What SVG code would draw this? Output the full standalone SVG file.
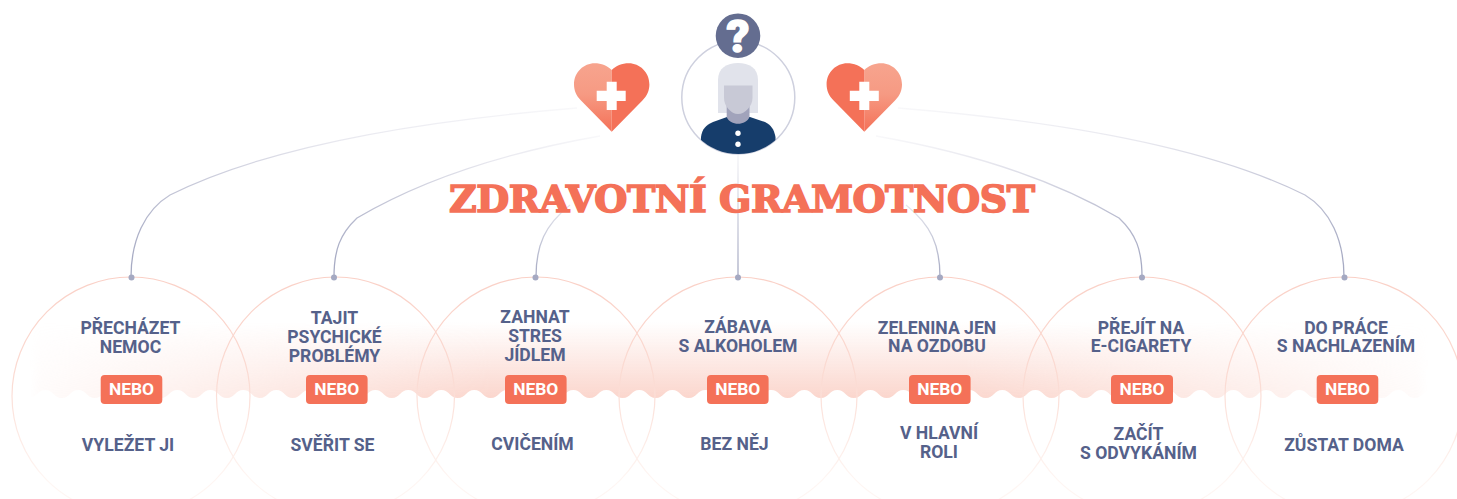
<svg xmlns="http://www.w3.org/2000/svg" width="1457" height="499" viewBox="0 0 1457 499">
<style>
.ring{fill:none;stroke:url(#ringG);stroke-width:1.2}
.lbl{font-family:Roboto,"Liberation Sans",sans-serif;font-weight:700;font-size:17.6px;fill:#55618a;text-anchor:middle}
.or{font-family:Roboto,"Liberation Sans",sans-serif;font-weight:700;font-size:17.4px;fill:#fff;text-anchor:middle}
.box{fill:#f47158}
.dot{fill:#a5a9c2}
.con{fill:none;stroke-width:1.3}
</style>
<defs>
<linearGradient id="ringG" x1="0" y1="0" x2="0" y2="1"><stop offset="0" stop-color="#fad0c6"/><stop offset=".45" stop-color="#fbdcd4"/><stop offset=".85" stop-color="#fef6f3"/></linearGradient>
<linearGradient id="waveG" gradientUnits="userSpaceOnUse" x1="0" y1="322" x2="0" y2="398"><stop offset="0" stop-color="#fbd6cd" stop-opacity="0"/><stop offset="1" stop-color="#fbd6cd"/></linearGradient>
<linearGradient id="fadeX" gradientUnits="userSpaceOnUse" x1="30" y1="0" x2="1428" y2="0"><stop offset="0" stop-color="#000"/><stop offset=".008" stop-color="#181818"/><stop offset=".33" stop-color="#fff"/><stop offset=".67" stop-color="#fff"/><stop offset=".992" stop-color="#181818"/><stop offset="1" stop-color="#000"/></linearGradient>
<mask id="waveM" maskUnits="userSpaceOnUse" x="0" y="300" width="1457" height="110"><rect x="0" y="300" width="1457" height="110" fill="url(#fadeX)"/></mask>
<linearGradient id="c1" gradientUnits="userSpaceOnUse" x1="131" y1="277" x2="577" y2="108"><stop offset="0" stop-color="#a5a9c2"/><stop offset=".15" stop-color="#c3c5d6"/><stop offset=".5" stop-color="#e8e8ef"/><stop offset="1" stop-color="#f8f8fa"/></linearGradient>
<linearGradient id="c2" gradientUnits="userSpaceOnUse" x1="334" y1="277" x2="600" y2="137"><stop offset="0" stop-color="#a5a9c2"/><stop offset=".25" stop-color="#c3c5d6"/><stop offset=".65" stop-color="#e8e8ef"/><stop offset="1" stop-color="#f8f8fa"/></linearGradient>
<linearGradient id="c3" gradientUnits="userSpaceOnUse" x1="0" y1="277" x2="0" y2="205"><stop offset="0" stop-color="#a5a9c2"/><stop offset="1" stop-color="#e6e7ee"/></linearGradient>
<linearGradient id="c4" gradientUnits="userSpaceOnUse" x1="0" y1="277" x2="0" y2="155"><stop offset="0" stop-color="#a5a9c2"/><stop offset="1" stop-color="#f4f4f7"/></linearGradient>
<linearGradient id="c6" gradientUnits="userSpaceOnUse" x1="1142" y1="277" x2="880" y2="137"><stop offset="0" stop-color="#a5a9c2"/><stop offset=".25" stop-color="#c3c5d6"/><stop offset=".65" stop-color="#e8e8ef"/><stop offset="1" stop-color="#f8f8fa"/></linearGradient>
<linearGradient id="c7" gradientUnits="userSpaceOnUse" x1="1344" y1="277" x2="898" y2="108"><stop offset="0" stop-color="#a5a9c2"/><stop offset=".15" stop-color="#c3c5d6"/><stop offset=".5" stop-color="#e8e8ef"/><stop offset="1" stop-color="#f8f8fa"/></linearGradient>
<linearGradient id="heartG" x1="0" y1="0" x2="0" y2="1"><stop offset="0" stop-color="#f7a48e"/><stop offset=".45" stop-color="#f69a83"/><stop offset="1" stop-color="#f47158"/></linearGradient>
<clipPath id="personClip"><circle cx="738.3" cy="97.5" r="56.5"/></clipPath>
</defs>

<path id="wave" mask="url(#waveM)" fill="url(#waveG)" d="M1464.3 390V320H12.3V390
c8.5 0 8.5 8 16.5 8s8.5-8 16.5-8s8.5 8 16.5 8s8.5-8 16.5-8s8.5 8 16.5 8s8.5-8 16.5-8s8.5 8 16.5 8s8.5-8 16.5-8
s8.5 8 16.5 8s8.5-8 16.5-8s8.5 8 16.5 8s8.5-8 16.5-8s8.5 8 16.5 8s8.5-8 16.5-8s8.5 8 16.5 8s8.5-8 16.5-8
s8.5 8 16.5 8s8.5-8 16.5-8s8.5 8 16.5 8s8.5-8 16.5-8s8.5 8 16.5 8s8.5-8 16.5-8s8.5 8 16.5 8s8.5-8 16.5-8
s8.5 8 16.5 8s8.5-8 16.5-8s8.5 8 16.5 8s8.5-8 16.5-8s8.5 8 16.5 8s8.5-8 16.5-8s8.5 8 16.5 8s8.5-8 16.5-8
s8.5 8 16.5 8s8.5-8 16.5-8s8.5 8 16.5 8s8.5-8 16.5-8s8.5 8 16.5 8s8.5-8 16.5-8s8.5 8 16.5 8s8.5-8 16.5-8
s8.5 8 16.5 8s8.5-8 16.5-8s8.5 8 16.5 8s8.5-8 16.5-8s8.5 8 16.5 8s8.5-8 16.5-8s8.5 8 16.5 8s8.5-8 16.5-8
s8.5 8 16.5 8s8.5-8 16.5-8s8.5 8 16.5 8s8.5-8 16.5-8s8.5 8 16.5 8s8.5-8 16.5-8s8.5 8 16.5 8s8.5-8 16.5-8
s8.5 8 16.5 8s8.5-8 16.5-8s8.5 8 16.5 8s8.5-8 16.5-8s8.5 8 16.5 8s8.5-8 16.5-8s8.5 8 16.5 8s8.5-8 16.5-8
s8.5 8 16.5 8s8.5-8 16.5-8s8.5 8 16.5 8s8.5-8 16.5-8s8.5 8 16.5 8s8.5-8 16.5-8s8.5 8 16.5 8s8.5-8 16.5-8
s8.5 8 16.5 8s8.5-8 16.5-8s8.5 8 16.5 8s8.5-8 16.5-8s8.5 8 16.5 8s8.5-8 16.5-8s8.5 8 16.5 8s8.5-8 16.5-8
s8.5 8 16.5 8s8.5-8 16.5-8s8.5 8 16.5 8s8.5-8 16.5-8s8.5 8 16.5 8s8.5-8 16.5-8s8.5 8 16.5 8s8.5-8 16.5-8Z"/>

<g id="connectors">
<path class="con" stroke="url(#c1)" d="M131 277C131 240 145 210 170 195C270 145 430 120 577 108"/>
<path class="con" stroke="url(#c2)" d="M334 277C334 250 340 234 357 218C430 175 520 150 600 136"/>
<path class="con" stroke="url(#c3)" d="M536 277C536 245 545 225 570 205"/>
<path class="con" stroke="url(#c4)" d="M738 277V155"/>
<path class="con" stroke="url(#c3)" d="M940 277C940 245 931 225 906 205"/>
<path class="con" stroke="url(#c6)" d="M1142 277C1142 250 1136 234 1119 218C1046 175 956 150 876 136"/>
<path class="con" stroke="url(#c7)" d="M1344 277C1344 240 1330 210 1305 195C1205 145 1045 120 898 108"/>
</g>

<g id="person">
<circle cx="738.300" cy="97.500" r="56.500" fill="#fff" stroke="#ced0de" stroke-width="1.500"/>
<path d="M718 113V80C718 68 727 63 738 63C749 63 758 68 758 80V113Z" fill="#e1e3eb"/>
<g clip-path="url(#personClip)"><path d="M701 160V137C702 129 706 125 713 122L727 117H750L765 122C771 125 774 129 775.500 137V160Z" fill="#163d6b"/></g>
<path d="M726.700 105V117C730 126 746 126 749.500 117V105Z" fill="#a1a3bb"/>
<path d="M724 85.500H752.500V98C752.500 106 745 114 738 114C731 114 724 106 724 98Z" fill="#c8c9d6"/>
<circle cx="738" cy="133.300" r="2.700" fill="#fff"/><circle cx="738" cy="144.300" r="2.700" fill="#fff"/>
</g>
<g id="question">
<circle cx="738" cy="35.700" r="22.300" fill="#646d90"/>
<text x="738" y="52" text-anchor="middle" font-family="Roboto,'Liberation Sans',sans-serif" font-weight="900" font-size="45" fill="#fff" stroke="#fff" stroke-width="1.400">?</text>
</g>

<g id="heart-left">
<path d="M611.700 131.700L581 100.500C576 95.500 574 90 574 84.500C574 72 584 63.300 594.500 63.300C601.500 63.300 607.500 66 611.700 70Z" fill="url(#heartG)"/>
<path d="M611.700 131.700L642.400 100.500C647.400 95.500 649.400 90 649.400 84.500C649.400 72 639.400 63.300 628.900 63.300C621.900 63.300 615.900 66 611.700 70Z" fill="#f47158"/>
<path d="M606.700 81.700H616.700V90.700H625.700V101H616.700V110H606.700V101H596.700V90.700H606.700Z" fill="#fff"/>
</g>
<g id="heart-right">
<path d="M864.300 131.700L895 100.500C900 95.500 902 90 902 84.500C902 72 892 63.300 881.500 63.300C874.500 63.300 868.500 66 864.300 70Z" fill="url(#heartG)"/>
<path d="M864.300 131.700L833.600 100.500C828.600 95.500 826.600 90 826.600 84.500C826.600 72 836.600 63.300 847.100 63.300C854.100 63.300 860.100 66 864.300 70Z" fill="#f47158"/>
<path d="M859.300 81.700H869.300V90.700H878.800V101H869.300V110H859.300V101H849.800V90.700H859.300Z" fill="#fff"/>
</g>

<text id="title" x="449" y="212" font-family="'DejaVu Serif',serif" font-weight="700" font-size="38" letter-spacing="-.5" fill="#f47158" stroke="#f47158" stroke-width="1.600">ZDRAVOTNÍ GRAMOTNOST</text>

<g id="node-1"><circle class="ring" cx="131" cy="396" r="119"/><circle class="dot" cx="131.500" cy="277.500" r="3"/>
<text class="lbl"><tspan x="130.500" y="334">PŘECHÁZET</tspan><tspan x="130.500" y="353">NEMOC</tspan></text>
<rect class="box" x="100.700" y="375" width="61.600" height="29" rx="4"/><text class="or" x="131.500" y="395">NEBO</text>
<text class="lbl" x="128" y="451">VYLEŽET JI</text></g>

<g id="node-2"><circle class="ring" cx="335.500" cy="396" r="119"/><circle class="dot" cx="334" cy="277.500" r="3"/>
<text class="lbl"><tspan x="334.500" y="324">TAJIT</tspan><tspan x="334.500" y="343">PSYCHICKÉ</tspan><tspan x="334.500" y="362">PROBLÉMY</tspan></text>
<rect class="box" x="306" y="375" width="61.600" height="29" rx="4"/><text class="or" x="336.800" y="395">NEBO</text>
<text class="lbl" x="332.500" y="451">SVĚŘIT SE</text></g>

<g id="node-3"><circle class="ring" cx="536" cy="396" r="119"/><circle class="dot" cx="535.500" cy="277.500" r="3"/>
<text class="lbl"><tspan x="535" y="323">ZAHNAT</tspan><tspan x="535" y="342">STRES</tspan><tspan x="535" y="361">JÍDLEM</tspan></text>
<rect class="box" x="505" y="375" width="61.600" height="29" rx="4"/><text class="or" x="535.800" y="395">NEBO</text>
<text class="lbl" x="532.500" y="450">CVIČENÍM</text></g>

<g id="node-4"><circle class="ring" cx="738" cy="396" r="119"/><circle class="dot" cx="738" cy="277.500" r="3"/>
<text class="lbl"><tspan x="738" y="333">ZÁBAVA</tspan><tspan x="738" y="352">S ALKOHOLEM</tspan></text>
<rect class="box" x="707" y="375" width="61.600" height="29" rx="4"/><text class="or" x="737.800" y="395">NEBO</text>
<text class="lbl" x="734.500" y="450">BEZ NĚJ</text></g>

<g id="node-5"><circle class="ring" cx="940" cy="396" r="119"/><circle class="dot" cx="940" cy="277.500" r="3"/>
<text class="lbl"><tspan x="937" y="334">ZELENINA JEN</tspan><tspan x="937" y="352">NA OZDOBU</tspan></text>
<rect class="box" x="909" y="375" width="61.600" height="29" rx="4"/><text class="or" x="939.800" y="395">NEBO</text>
<text class="lbl"><tspan x="939" y="439">V HLAVNÍ</tspan><tspan x="939" y="458">ROLI</tspan></text></g>

<g id="node-6"><circle class="ring" cx="1142" cy="396" r="119"/><circle class="dot" cx="1142" cy="277.500" r="3"/>
<text class="lbl"><tspan x="1141" y="334">PŘEJÍT NA</tspan><tspan x="1141" y="352">E-CIGARETY</tspan></text>
<rect class="box" x="1111" y="375" width="62" height="29" rx="4"/><text class="or" x="1142" y="395">NEBO</text>
<text class="lbl"><tspan x="1138.500" y="440">ZAČÍT</tspan><tspan x="1138.500" y="459">S ODVYKÁNÍM</tspan></text></g>

<g id="node-7"><circle class="ring" cx="1344" cy="396" r="119"/><circle class="dot" cx="1344.500" cy="277.500" r="3"/>
<text class="lbl"><tspan x="1346" y="334">DO PRÁCE</tspan><tspan x="1346" y="352">S NACHLAZENÍM</tspan></text>
<rect class="box" x="1316.700" y="375" width="61.600" height="29" rx="4"/><text class="or" x="1347.500" y="395">NEBO</text>
<text class="lbl" x="1344" y="451">ZŮSTAT DOMA</text></g>
</svg>
